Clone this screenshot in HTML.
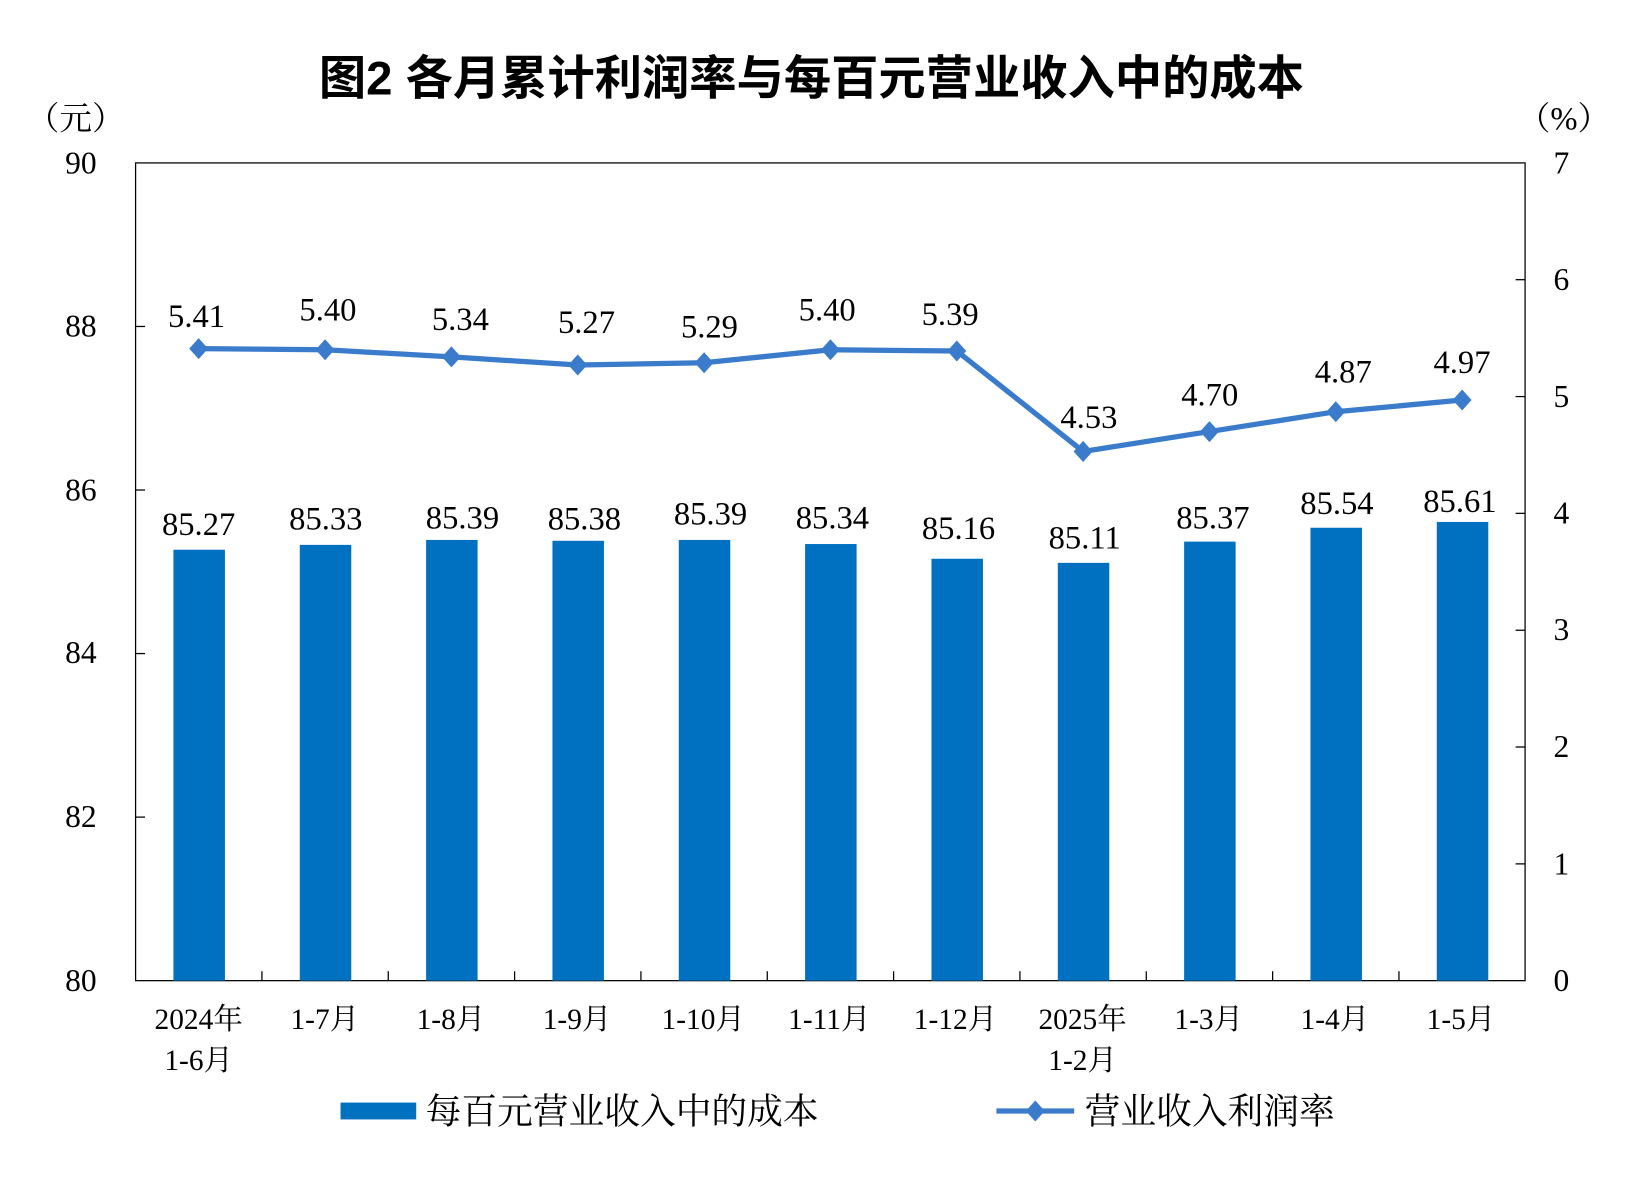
<!DOCTYPE html>
<html><head><meta charset="utf-8"><style>
html,body{margin:0;padding:0;background:#fff;}
svg{display:block;}
.s{font-family:"Liberation Serif","Noto Serif CJK SC","Noto Sans CJK SC",serif;fill:#000;}
.t{font-family:"Liberation Sans","Noto Sans CJK SC",sans-serif;fill:#000;}
</style></head><body>
<svg width="1647" height="1181" viewBox="0 0 1567 1123.6" preserveAspectRatio="none" xmlns="http://www.w3.org/2000/svg">
<text class="t" x="772" y="90" font-size="45" font-weight="bold" text-anchor="middle">图2  各月累计利润率与每百元营业收入中的成本</text>
<text class="s" x="72" y="123" font-size="31" text-anchor="middle">（元）</text>
<text class="s" x="1488" y="123" font-size="31" text-anchor="middle">（%）</text>
<rect x="129" y="155" width="1322" height="778" fill="none" stroke="#000" stroke-width="1.2"/>
<g stroke="#000" stroke-width="1.2">
<line x1="129" y1="310.6" x2="138" y2="310.6"/><line x1="129" y1="466.2" x2="138" y2="466.2"/>
<line x1="129" y1="621.8" x2="138" y2="621.8"/><line x1="129" y1="777.4" x2="138" y2="777.4"/>
<line x1="1442" y1="266.1" x2="1451" y2="266.1"/><line x1="1442" y1="377.3" x2="1451" y2="377.3"/>
<line x1="1442" y1="488.4" x2="1451" y2="488.4"/><line x1="1442" y1="599.6" x2="1451" y2="599.6"/>
<line x1="1442" y1="710.7" x2="1451" y2="710.7"/><line x1="1442" y1="821.9" x2="1451" y2="821.9"/>
<line x1="249.2" y1="933" x2="249.2" y2="924"/><line x1="369.4" y1="933" x2="369.4" y2="924"/>
<line x1="489.6" y1="933" x2="489.6" y2="924"/><line x1="609.8" y1="933" x2="609.8" y2="924"/>
<line x1="730" y1="933" x2="730" y2="924"/><line x1="850.2" y1="933" x2="850.2" y2="924"/>
<line x1="970.4" y1="933" x2="970.4" y2="924"/><line x1="1090.6" y1="933" x2="1090.6" y2="924"/>
<line x1="1210.8" y1="933" x2="1210.8" y2="924"/><line x1="1331" y1="933" x2="1331" y2="924"/>
</g>
<g class="s" font-size="30" text-anchor="end">
<text x="92" y="165">90</text><text x="92" y="320">88</text><text x="92" y="476">86</text>
<text x="92" y="631">84</text><text x="92" y="787">82</text><text x="92" y="943">80</text>
</g>
<g class="s" font-size="30" text-anchor="start">
<text x="1478" y="165">7</text><text x="1478" y="276">6</text><text x="1478" y="387">5</text>
<text x="1478" y="498">4</text><text x="1478" y="609">3</text><text x="1478" y="720">2</text>
<text x="1478" y="832">1</text><text x="1478" y="943">0</text>
</g>
<g fill="#0070C0">
<rect x="165" y="523" width="49" height="410"/>
<rect x="285.2" y="518.4" width="49" height="414.6"/>
<rect x="405.4" y="513.7" width="49" height="419.3"/>
<rect x="525.6" y="514.5" width="49" height="418.5"/>
<rect x="645.8" y="513.7" width="49" height="419.3"/>
<rect x="766" y="517.6" width="49" height="415.4"/>
<rect x="886.2" y="531.6" width="49" height="401.4"/>
<rect x="1006.4" y="535.5" width="49" height="397.5"/>
<rect x="1126.6" y="515.3" width="49" height="417.7"/>
<rect x="1246.8" y="502.1" width="49" height="430.9"/>
<rect x="1367" y="496.6" width="49" height="436.4"/>
</g>
<g class="s" font-size="31" text-anchor="middle">
<text x="189" y="509">85.27</text><text x="310" y="504">85.33</text><text x="440" y="503">85.39</text>
<text x="556" y="504">85.38</text><text x="676" y="499">85.39</text><text x="792" y="503">85.34</text>
<text x="912" y="513">85.16</text><text x="1032" y="522">85.11</text><text x="1154" y="503">85.37</text>
<text x="1272" y="489">85.54</text><text x="1389" y="487">85.61</text>
</g>
<polyline fill="none" stroke="#3A7BCB" stroke-width="5" points="189,331.7 309.3,332.8 429.5,339.5 549.7,347.3 669.9,345.1 790.1,332.8 910.3,333.9 1030.5,429.5 1150.7,410.6 1270.9,391.7 1391.1,380.6"/>
<g fill="#3A7BCB">
<path d="M189,321.7l9,10l-9,10l-9,-10z"/><path d="M309.3,322.8l9,10l-9,10l-9,-10z"/>
<path d="M429.5,329.5l9,10l-9,10l-9,-10z"/><path d="M549.7,337.3l9,10l-9,10l-9,-10z"/>
<path d="M669.9,335.1l9,10l-9,10l-9,-10z"/><path d="M790.1,322.8l9,10l-9,10l-9,-10z"/>
<path d="M910.3,323.9l9,10l-9,10l-9,-10z"/><path d="M1030.5,419.5l9,10l-9,10l-9,-10z"/>
<path d="M1150.7,400.6l9,10l-9,10l-9,-10z"/><path d="M1270.9,381.7l9,10l-9,10l-9,-10z"/>
<path d="M1391.1,370.6l9,10l-9,10l-9,-10z"/>
</g>
<g class="s" font-size="31" text-anchor="middle">
<text x="187" y="311">5.41</text><text x="312" y="305">5.40</text><text x="438" y="314">5.34</text>
<text x="558" y="317">5.27</text><text x="675" y="321">5.29</text><text x="787" y="305">5.40</text>
<text x="904" y="309">5.39</text><text x="1036" y="407">4.53</text><text x="1151" y="386">4.70</text>
<text x="1278" y="364">4.87</text><text x="1391" y="355">4.97</text>
</g>
<g class="s" font-size="28" text-anchor="middle">
<text x="189" y="979">2024年</text><text x="189" y="1018">1-6月</text>
<text x="309" y="979">1-7月</text><text x="429" y="979">1-8月</text><text x="549" y="979">1-9月</text>
<text x="669" y="979">1-10月</text><text x="789" y="979">1-11月</text><text x="909" y="979">1-12月</text>
<text x="1030" y="979">2025年</text><text x="1030" y="1018">1-2月</text>
<text x="1150" y="979">1-3月</text><text x="1270" y="979">1-4月</text><text x="1390" y="979">1-5月</text>
</g>
<rect x="324" y="1049" width="72" height="16" fill="#0070C0"/>
<text class="s" x="405" y="1069" font-size="34">每百元营业收入中的成本</text>
<line x1="948" y1="1057" x2="1022" y2="1057" stroke="#3A7BCB" stroke-width="5"/>
<path d="M985,1047l9,10l-9,10l-9,-10z" fill="#3A7BCB"/>
<text class="s" x="1032" y="1069" font-size="34">营业收入利润率</text>
</svg>
</body></html>
